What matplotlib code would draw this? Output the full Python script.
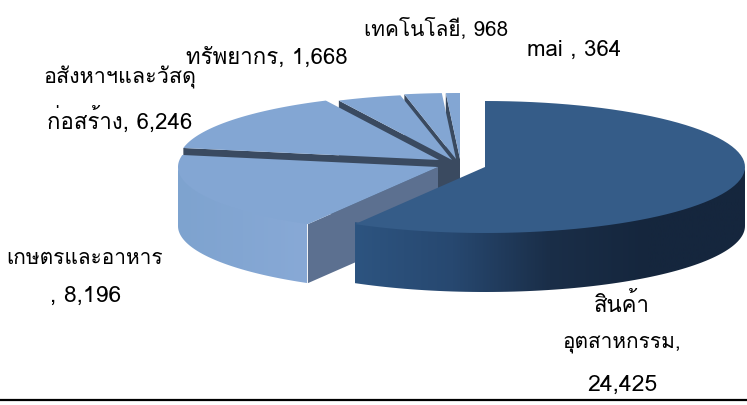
import numpy as np
import matplotlib
matplotlib.use('Agg')
import matplotlib.pyplot as plt
from matplotlib.colors import LinearSegmentedColormap
from matplotlib.patches import Polygon

categories = ['สินค้าอุตสาหกรรม', 'เกษตรและอาหาร', 'อสังหาฯและวัสดุก่อสร้าง', 'ทรัพยากร', 'เทคโนโลยี', 'mai']
values = [24425, 8196, 6246, 1668, 968, 364]

# apex of every exploded slice, in pixels
apex_x = [485, 438, 439, 452, 456, 460]
apex_y = [167, 167, 160, 160, 159, 159]
RX, RY, DEPTH = 260, 66, 59

label_lines = ['เทคโนโลยี, 968', 'mai , 364', 'ทรัพยากร, 1,668', 'อสังหาฯและวัสดุ', 'ก่อสร้าง, 6,246',
               'เกษตรและอาหาร', ', 8,196', 'สินค้า', 'อุตสาหกรรม,', '24,425']
label_x = [436, 574, 267, 120, 120, 85, 86, 622, 622, 622]
label_y = [28, 50, 58, 77, 120, 258, 296, 305, 345, 385]
label_size = [15, 16, 16, 15.5, 16, 15, 16.5, 16, 15, 16.5]

W, H = 747, 405
fig = plt.figure(figsize=(W / 100, H / 100), dpi=100)
ax = fig.add_axes([0, 0, 1, 1])


def rim(i, a0, a1, n=80):
    t = np.radians(np.linspace(a0, a1, n))
    return apex_x[i] + RX * np.sin(t), apex_y[i] - RY * np.cos(t)


def grad_wall(xs, ys, colors, x0, x1, z):
    # wall runs a little under the top face so no seam shows
    pts = np.r_[np.c_[xs, ys - 2], np.c_[xs, ys + DEPTH][::-1]]
    clip = Polygon(pts, closed=True, transform=ax.transData, fc='none', ec='none')
    ax.add_patch(clip)
    cmap = LinearSegmentedColormap.from_list('w', colors)
    im = ax.imshow(np.linspace(0, 1, 256)[None, :], cmap=cmap, aspect='auto',
                   extent=[x0, x1, H, 0], zorder=z)
    im.set_clip_path(clip)


edges = np.r_[0, np.cumsum(values)] / sum(values) * 360
top_colors = ['#355C88', '#83A6D3', '#83A6D3', '#83A6D3', '#83A6D3', '#83A6D3']
inner_wall = '#3A4A60'

# back slices first, the big dark one last
for i in [5, 4, 3, 2, 1, 0]:
    z = 10 - i
    a0, a1 = edges[i], edges[i + 1]
    x, y = rim(i, a0, a1)
    sx, sy = rim(i, a0, a0, 1)
    wall = [(apex_x[i], apex_y[i]), (sx[0], sy[0]), (sx[0], sy[0] + DEPTH), (apex_x[i], apex_y[i] + DEPTH)]
    if i > 1:
        ax.add_patch(Polygon(wall, fc=inner_wall, ec='none', zorder=z))
    if i == 1:
        ax.add_patch(Polygon(wall, fc='#5C7090', ec='none', zorder=z))
        wx, wy = rim(i, a0, 270)
        grad_wall(wx, wy, ['#88A9D6', '#7EA3CF'], 307, 178, z)
    if i == 0:
        wx, wy = rim(i, 90, a1)
        grad_wall(wx, wy, ['#2D5480', '#274870', '#1A2E48', '#15263D', '#15263D'], 355, 745, z)
    ax.add_patch(Polygon(np.r_[[(apex_x[i], apex_y[i])], np.c_[x, y]], fc=top_colors[i], ec='none', zorder=z))

for t, lx, ly, s in zip(label_lines, label_x, label_y, label_size):
    ax.text(lx, ly, t, ha='center', va='center', fontsize=s, family=['Loma', 'Noto Sans', 'DejaVu Sans'],
            color='black', zorder=20)

ax.plot([0, W], [400, 400], color='black', lw=1.6, zorder=20)

ax.set_xlim(0, W)
ax.set_ylim(H, 0)
ax.axis('off')
fig.savefig('out.png', dpi=100)
